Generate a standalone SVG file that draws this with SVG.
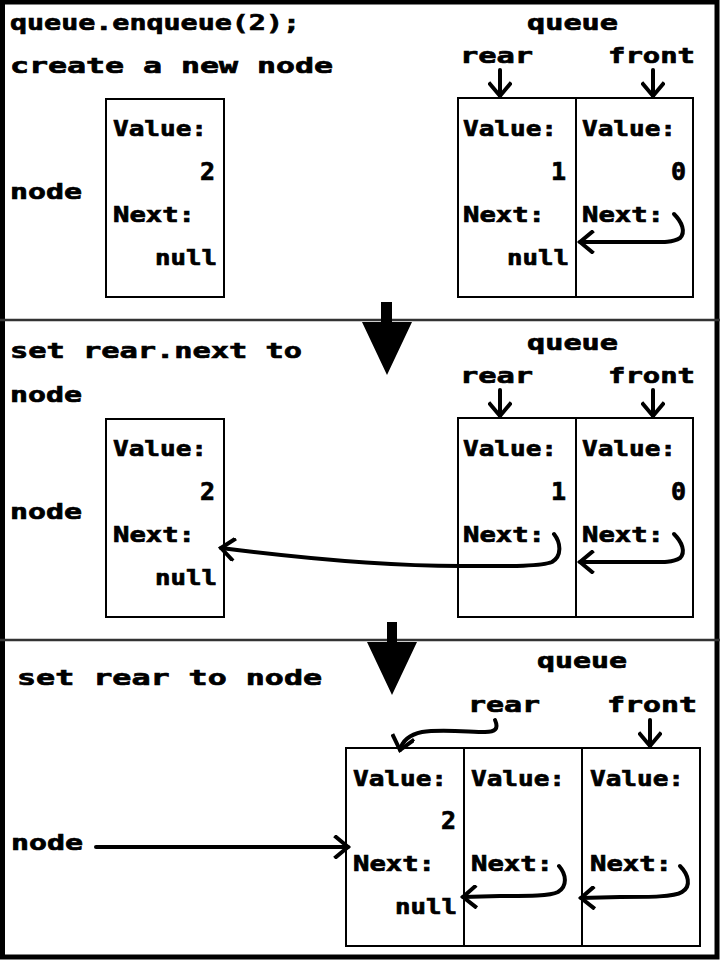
<svg xmlns="http://www.w3.org/2000/svg" width="720" height="960" viewBox="0 0 720 960">
<style>
text{font-family:"DejaVu Sans Mono","Liberation Mono",monospace;font-weight:bold;font-size:22px;fill:#000;stroke:#000;stroke-width:0.7}
.box{fill:#fff;stroke:#000;stroke-width:2}
.div{stroke:#000;stroke-width:2}
.c{fill:none;stroke:#000;stroke-width:4;stroke-linecap:round;stroke-linejoin:round}
.e{text-anchor:end;font-size:25px}
</style>
<defs>
<marker id="ah" viewBox="0 0 24 24" refX="16" refY="12" markerWidth="24" markerHeight="24" markerUnits="userSpaceOnUse" orient="auto">
<path d="M4,2 L16,12 L4,22" fill="none" stroke="#000" stroke-width="4" stroke-linecap="square"/>
</marker>
</defs>
<rect x="0" y="0" width="720" height="960" fill="#fff"/>
<rect x="2.5" y="2" width="714.5" height="955" fill="none" stroke="#000" stroke-width="5"/>
<line x1="0" y1="320" x2="720" y2="320" stroke="#333" stroke-width="2.5"/>
<line x1="0" y1="640" x2="720" y2="640" stroke="#333" stroke-width="2.5"/>

<!-- Panel 1 -->
<g id="title1">
<text x="10" y="30" textLength="290" lengthAdjust="spacingAndGlyphs">queue.enqueue(2);</text>
<text x="10" y="73" textLength="323" lengthAdjust="spacingAndGlyphs">create a new node</text>
</g>
<g id="label-node1"><text x="10" y="199" textLength="72" lengthAdjust="spacingAndGlyphs">node</text></g>
<g id="node1">
<rect class="box" x="106" y="99" width="118" height="198"/>
<text x="113" y="136" textLength="94" lengthAdjust="spacingAndGlyphs">Value:</text>
<text class="e" x="215" y="180">2</text>
<text x="113" y="222" textLength="82" lengthAdjust="spacingAndGlyphs">Next:</text>
<text x="155" y="265" textLength="62" lengthAdjust="spacingAndGlyphs">null</text>
</g>
<g id="queue1">
<text x="527" y="30" textLength="91" lengthAdjust="spacingAndGlyphs">queue</text>
<text x="460" y="63" textLength="73" lengthAdjust="spacingAndGlyphs">rear</text>
<text x="608" y="63" textLength="87" lengthAdjust="spacingAndGlyphs">front</text>
<rect class="box" x="458" y="98" width="235" height="199"/>
<line class="div" x1="576" y1="98" x2="576" y2="297"/>
<text x="463" y="136" textLength="94" lengthAdjust="spacingAndGlyphs">Value:</text>
<text class="e" x="566" y="180">1</text>
<text x="463" y="222" textLength="82" lengthAdjust="spacingAndGlyphs">Next:</text>
<text x="507" y="265" textLength="62" lengthAdjust="spacingAndGlyphs">null</text>
<text x="582" y="136" textLength="94" lengthAdjust="spacingAndGlyphs">Value:</text>
<text class="e" x="686" y="180">0</text>
<text x="582" y="222" textLength="82" lengthAdjust="spacingAndGlyphs">Next:</text>
</g>

<!-- Panel 2 -->
<g id="title2">
<text x="10" y="358" textLength="292" lengthAdjust="spacingAndGlyphs">set rear.next to</text>
<text x="10" y="402" textLength="72" lengthAdjust="spacingAndGlyphs">node</text>
</g>
<g id="label-node2"><text x="10" y="519" textLength="72" lengthAdjust="spacingAndGlyphs">node</text></g>
<g id="node2">
<rect class="box" x="106" y="419" width="118" height="198"/>
<text x="113" y="456" textLength="94" lengthAdjust="spacingAndGlyphs">Value:</text>
<text class="e" x="215" y="500">2</text>
<text x="113" y="542" textLength="82" lengthAdjust="spacingAndGlyphs">Next:</text>
<text x="155" y="585" textLength="62" lengthAdjust="spacingAndGlyphs">null</text>
</g>
<g id="queue2">
<text x="527" y="350" textLength="91" lengthAdjust="spacingAndGlyphs">queue</text>
<text x="460" y="383" textLength="73" lengthAdjust="spacingAndGlyphs">rear</text>
<text x="608" y="383" textLength="87" lengthAdjust="spacingAndGlyphs">front</text>
<rect class="box" x="458" y="418" width="235" height="199"/>
<line class="div" x1="576" y1="418" x2="576" y2="617"/>
<text x="463" y="456" textLength="94" lengthAdjust="spacingAndGlyphs">Value:</text>
<text class="e" x="566" y="500">1</text>
<text x="463" y="542" textLength="82" lengthAdjust="spacingAndGlyphs">Next:</text>
<text x="582" y="456" textLength="94" lengthAdjust="spacingAndGlyphs">Value:</text>
<text class="e" x="686" y="500">0</text>
<text x="582" y="542" textLength="82" lengthAdjust="spacingAndGlyphs">Next:</text>
</g>

<!-- Panel 3 -->
<g id="title3"><text x="17" y="685" textLength="305" lengthAdjust="spacingAndGlyphs">set rear to node</text></g>
<g id="label-node3"><text x="11" y="850" textLength="72" lengthAdjust="spacingAndGlyphs">node</text></g>
<g id="queue3">
<text x="537" y="668" textLength="90" lengthAdjust="spacingAndGlyphs">queue</text>
<text x="468" y="712" textLength="72" lengthAdjust="spacingAndGlyphs">rear</text>
<text x="607" y="712" textLength="90" lengthAdjust="spacingAndGlyphs">front</text>
<rect class="box" x="346" y="748" width="354" height="198"/>
<line class="div" x1="464" y1="748" x2="464" y2="946"/>
<line class="div" x1="582" y1="748" x2="582" y2="946"/>
<text x="353" y="786" textLength="94" lengthAdjust="spacingAndGlyphs">Value:</text>
<text class="e" x="456" y="829">2</text>
<text x="353" y="871" textLength="82" lengthAdjust="spacingAndGlyphs">Next:</text>
<text x="395" y="914" textLength="62" lengthAdjust="spacingAndGlyphs">null</text>
<text x="471" y="786" textLength="94" lengthAdjust="spacingAndGlyphs">Value:</text>
<text x="471" y="871" textLength="82" lengthAdjust="spacingAndGlyphs">Next:</text>
<text x="590" y="786" textLength="94" lengthAdjust="spacingAndGlyphs">Value:</text>
<text x="590" y="871" textLength="82" lengthAdjust="spacingAndGlyphs">Next:</text>
</g>

<g id="connectors">
<!-- step arrows -->
<path d="M381,302 H392 V322 H412 L387,375 L362,322 H381 Z" fill="#000"/>
<path d="M387,622 H397 V642 H417 L392,695 L367,642 H387 Z" fill="#000"/>
<!-- panel 1 -->
<path class="c" d="M500,70 V96" marker-end="url(#ah)"/>
<path class="c" d="M653,70 V96" marker-end="url(#ah)"/>
<path class="c" d="M674,214 C682,222 686,232 680,238 C672,243 660,242 640,242 L580,242" marker-end="url(#ah)"/>
<!-- panel 2 -->
<path class="c" d="M500,390 V416" marker-end="url(#ah)"/>
<path class="c" d="M653,390 V416" marker-end="url(#ah)"/>
<path class="c" d="M674,534 C682,542 686,552 680,558 C672,563 660,562 640,562 L580,562" marker-end="url(#ah)"/>
<path class="c" d="M554,534 C561,543 562,556 552,562 C540,567 500,566 460,566 C380,566 300,558 221,548" marker-end="url(#ah)"/>
<!-- panel 3 -->
<path class="c" d="M96,847 H348" marker-end="url(#ah)"/>
<path class="c" d="M650,720 V746" marker-end="url(#ah)"/>
<path class="c" d="M495,720 C499,729 495,732 485,732 C470,732 440,729 422,732 C408,735 402,742 400,750" marker-end="url(#ah)"/>
<path class="c" d="M559,866 C566,874 568,886 558,892 C550,896 530,896 500,896 L463,897" marker-end="url(#ah)"/>
<path class="c" d="M680,866 C688,874 692,886 682,892 C674,897 650,897 620,897 L581,898" marker-end="url(#ah)"/>
</g>
</svg>
